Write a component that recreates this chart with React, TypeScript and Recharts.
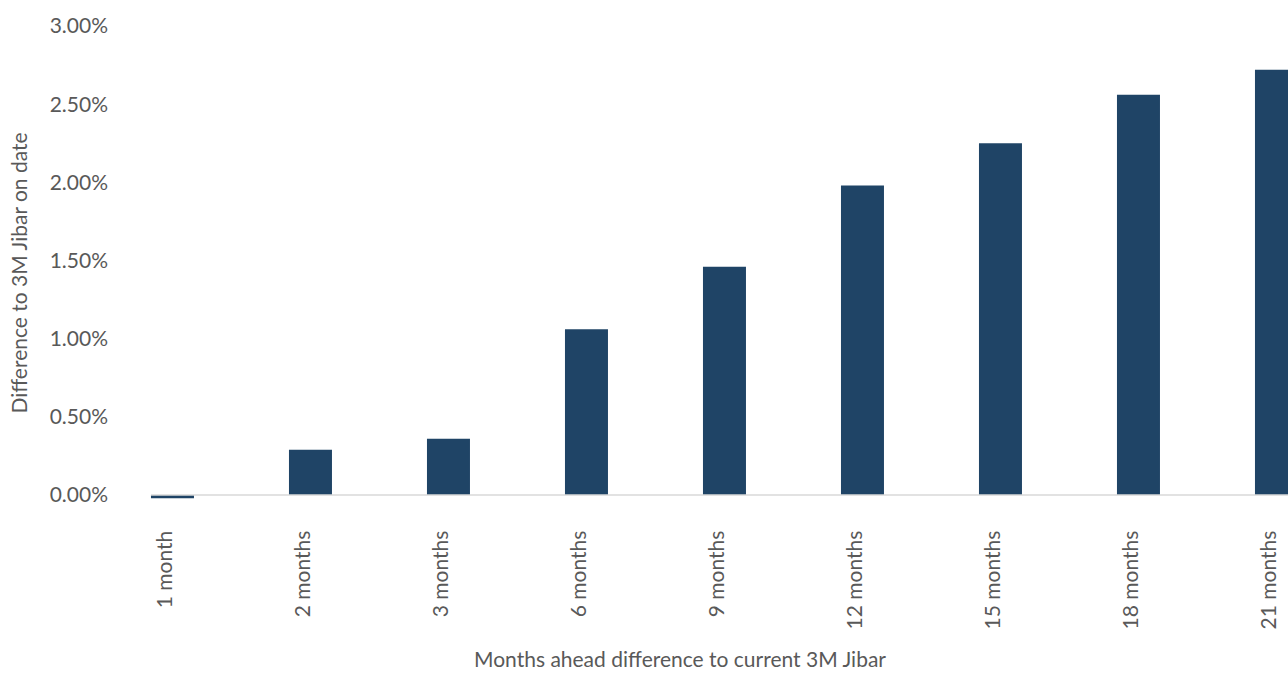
import { BarChart, Bar, XAxis, YAxis, ReferenceLine, Label } from 'recharts'

// 3M Jibar forward spread per horizon
const monthLabels = ['1 month', '2 months', '3 months', '6 months', '9 months', '12 months', '15 months', '18 months', '21 months']
const diffValues = [-0.0002, 0.0029, 0.0036, 0.0106, 0.0146, 0.0198, 0.0225, 0.0256, 0.0272]
const yTicks = [0, 0.005, 0.01, 0.015, 0.02, 0.025, 0.03]

const data = monthLabels.map((month, i) => ({ month, diff: diffValues[i] }))

const TEXT = '#595959'
const BAR = '#1f4466'
const FONT = 'Lato, "Noto Sans", sans-serif'
const FS = 21

const pct = (v: number) => `${(v * 100).toFixed(2)}%`

// rotated category label, baseline on the band centre
function MonthTick({ x, y, payload }: { x: number; y: number; payload: { value: string } }) {
  return (
    <text
      x={x}
      y={y}
      transform={`rotate(-90 ${x} ${y})`}
      textAnchor="end"
      fill={TEXT}
      fontSize={FS}
      fontFamily={FONT}
    >
      {payload.value}
    </text>
  )
}

export default function App() {
  // pinned to the viewport corner; the last category runs past the right edge like the original
  return (
    <div style={{ position: 'fixed', left: 0, top: 0, width: 1288, height: 673, overflow: 'hidden', background: '#fff' }}>
      <BarChart
        width={1350}
        height={673}
        data={data}
        margin={{ top: 26, right: 4.5, bottom: 0, left: 0 }}
        barCategoryGap="34.4%"
      >
        <ReferenceLine y={0} stroke="#d9d9d9" strokeWidth={1.5} />
        <XAxis
          dataKey="month"
          axisLine={false}
          tickLine={false}
          tickSize={0}
          tickMargin={31}
          height={173.3}
          padding={{ left: -47.5, right: 0 }}
          interval={0}
          tick={MonthTick as any}
        >
          <Label
            content={() => (
              <text x={680} y={667} textAnchor="middle" fill={TEXT} fontSize={FS} fontFamily={FONT}>
                Months ahead difference to current 3M Jibar
              </text>
            )}
          />
        </XAxis>
        <YAxis
          width={151}
          domain={[-0.0003, 0.03]}
          ticks={yTicks}
          allowDataOverflow
          axisLine={false}
          tickLine={false}
          tickSize={0}
          tickMargin={43}
          tickFormatter={pct}
          tick={{ fill: TEXT, fontSize: FS, fontFamily: FONT }}
        >
          <Label
            content={() => (
              <text
                x={27}
                y={273}
                transform="rotate(-90 27 273)"
                textAnchor="middle"
                fill={TEXT}
                fontSize={FS}
                fontFamily={FONT}
              >
                Difference to 3M Jibar on date
              </text>
            )}
          />
        </YAxis>
        <Bar dataKey="diff" fill={BAR} isAnimationActive={false} />
      </BarChart>
    </div>
  )
}
